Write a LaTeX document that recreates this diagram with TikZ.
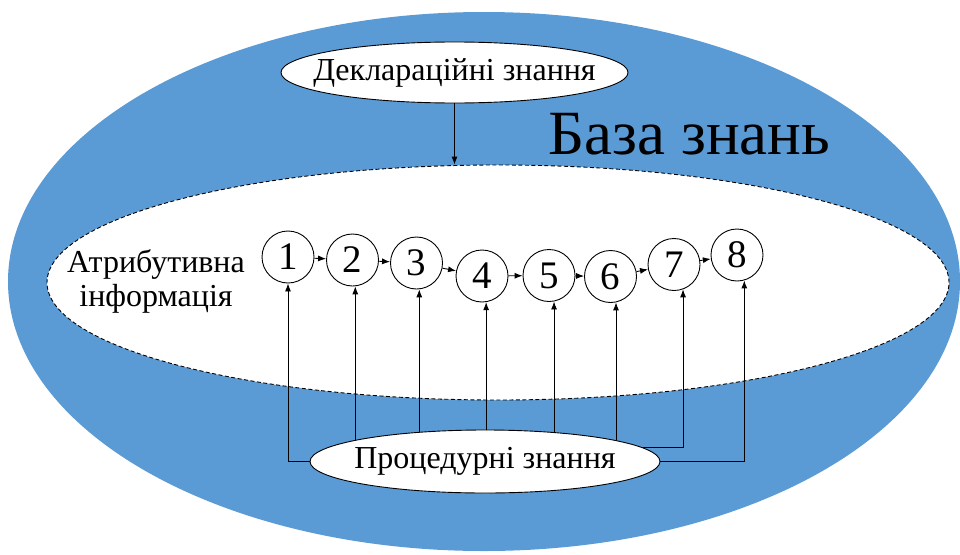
\documentclass[tikz,border=0pt]{standalone}
\usepackage{fontspec}
\setmainfont{Liberation Serif}
\usetikzlibrary{arrows.meta,shapes.geometric}
\definecolor{kbblue}{HTML}{5B9BD5}

\begin{document}
\begin{tikzpicture}[x=1pt,y=-1pt]
\tikzstyle{num}=[circle,draw,fill=white,line width=0.9pt,minimum size=52pt,inner sep=0pt,font=\fontsize{39}{42}\selectfont];
\tikzstyle{oval}=[ellipse,draw,fill=white,line width=0.9pt,inner sep=0pt];
\tikzstyle{txt}=[font=\fontsize{32}{34}\selectfont];
\tikzstyle{link}=[-{Latex[length=8pt,width=6pt]},line width=0.9pt];
\useasboundingbox (0,0) rectangle (960,554);
\fill [kbblue] (484,281.5) ellipse [x radius=476pt,y radius=269.5pt];
\node [oval,dash pattern=on 4pt off 2.5pt,minimum width=902pt,minimum height=235pt] (attr) at (498,282.5) {};
\node [txt,align=center] (attrtext) at (156,281) {Атрибутивна\\інформація};
\node [font=\fontsize{63}{70}\selectfont] (kb) at (689.5,134) {База знань};

\node [oval,minimum width=347pt,minimum height=61pt] (decl) at (454.5,72.5) {};
\node [txt] (decltext) at (decl) {Деклараційні знання};
\draw [link] (decl.south) -- (decl.south |- attr.north);

\foreach \n/\x/\y in {1/288/257,2/352.5/260,3/416.5/263,4/482/276,5/549/275.5,6/610.5/276.5,7/674/264.5,8/737/255}
  \node [num] (c\n) at (\x,\y) {\n};
\foreach \a/\b in {1/2,2/3,3/4,4/5,5/6,6/7,7/8}
  \draw [link] (c\a) -- (c\b);

% procedural links
\coordinate (pc) at (485,461.5);
\foreach \n/\a in {2/-84,3/-84,4/-81,5/-79,6/-78}
  \draw [link] (c\n.\a |- pc) -- (c\n.\a);
\draw [link] ([yshift=14.5pt]pc -| c6.-78) -| (c7.-70);
\node [oval,minimum width=350pt,minimum height=63pt] (proc) at (pc) {};
\node [txt] (proctext) at (proc) {Процедурні знання};
\draw [link] (proc.west) -| (c1.south);
\draw [link] (proc.east) -| (c8.-74);
\end{tikzpicture}
\end{document}
